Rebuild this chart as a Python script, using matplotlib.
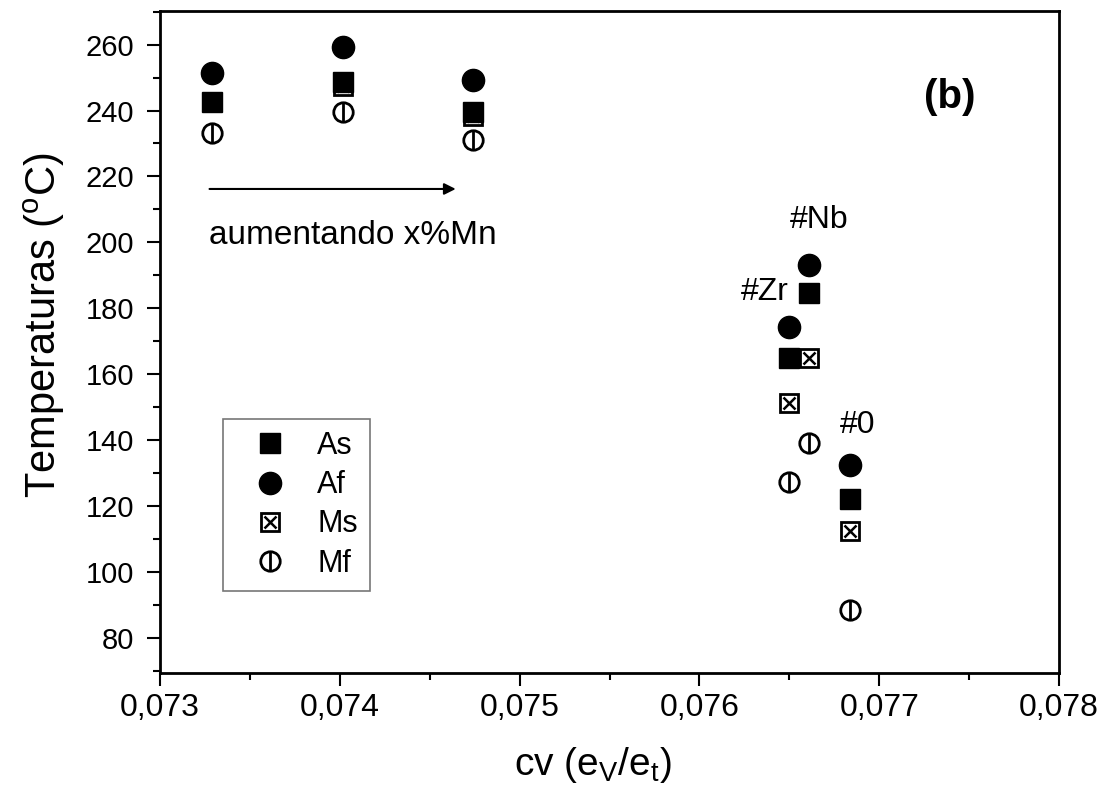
import matplotlib
matplotlib.use("Agg")
import matplotlib.pyplot as plt
from matplotlib.lines import Line2D

plt.rcParams["font.family"] = ["Liberation Sans", "DejaVu Sans"]
plt.rcParams["mathtext.fontset"] = "custom"
plt.rcParams["mathtext.rm"] = "Liberation Sans"

# cv values for each alloy group
cv = [0.07329, 0.07402, 0.07474, 0.07650, 0.07661, 0.07684]
As = [242.7, 248.7, 239.6, 165.0, 184.7, 122.2]
Af = [251.3, 259.3, 249.2, 174.4, 193.2, 132.5]
Ms = [None, 247.3, 238.2, 151.3, 165.0, 112.5]
Mf = [233.1, 239.6, 231.0, 127.3, 139.2, 88.5]

labels = ["#Zr", "#Nb", "#0"]
label_pos = [(0.076365, 185), (0.076665, 206.8), (0.07688, 144.6)]

fig = plt.figure(figsize=(11.05, 7.93), dpi=100)
ax = fig.add_axes([0.1448, 0.151, 0.8136, 0.8352])

def pts(vals):
    xs = [x for x, v in zip(cv, vals) if v is not None]
    ys = [v for v in vals if v is not None]
    return xs, ys

ms_sty = dict(ls="none", marker="s", ms=12.5, mfc="white", mec="black", mew=2)
ms_x = dict(ls="none", marker="x", ms=8, color="black", mew=1.8)
mf_sty = dict(ls="none", marker="o", ms=14, mfc="white", mec="black", mew=2)
mf_bar = dict(ls="none", marker="|", ms=14, color="black", mew=2)
as_sty = dict(ls="none", marker="s", ms=14.5, color="black")
af_sty = dict(ls="none", marker="o", ms=16, color="black")

ax.plot(*pts(Ms), zorder=3, **ms_sty)
ax.plot(*pts(Ms), zorder=3.1, **ms_x)
ax.plot(*pts(Mf), zorder=3, **mf_sty)
ax.plot(*pts(Mf), zorder=3.1, **mf_bar)
ax.plot(*pts(As), zorder=4, **as_sty)
ax.plot(*pts(Af), zorder=4, **af_sty)

for lab, (lx, ly) in zip(labels, label_pos):
    ax.text(lx, ly, lab, fontsize=23, ha="center", va="center")

ax.text(0.077395, 244.1, "(b)", fontsize=29, fontweight="bold", ha="center", va="center")
ax.annotate("", xy=(0.07466, 216.2), xytext=(0.07326, 216.2),
            arrowprops=dict(arrowstyle="-|>", color="black", lw=1.5, mutation_scale=17))
ax.text(0.07407, 202.2, "aumentando x%Mn", fontsize=24, ha="center", va="center")

ax.set_xlim(0.073, 0.078)
ax.set_ylim(69.3, 270.2)
ax.set_xticks([0.073, 0.074, 0.075, 0.076, 0.077, 0.078])
ax.set_xticklabels(["0,073", "0,074", "0,075", "0,076", "0,077", "0,078"])
ax.set_xticks([0.0735, 0.0745, 0.0755, 0.0765, 0.0775], minor=True)
ax.set_yticks(range(80, 261, 20))
ax.set_yticks(range(70, 271, 10), minor=True)
ax.tick_params(axis="both", which="major", direction="out", length=9.4, width=1.5)
ax.tick_params(axis="both", which="minor", direction="out", length=5, width=1.5)
ax.tick_params(axis="x", labelsize=23, pad=5)
ax.tick_params(axis="y", labelsize=21, pad=9)
for s in ax.spines.values():
    s.set_linewidth(2)

ax.set_xlabel(r"cv (e$_\mathregular{V}$/e$_\mathregular{t}$)", fontsize=28)
ax.xaxis.set_label_coords(0.482, -0.108)
ax.set_ylabel(r"Temperaturas ($^\mathregular{o}$C)", fontsize=30)
ax.yaxis.set_label_coords(-0.104, 0.525)

h_ms = (Line2D([], [], **ms_sty), Line2D([], [], **ms_x))
h_mf = (Line2D([], [], **mf_sty), Line2D([], [], **mf_bar))
leg = ax.legend([Line2D([], [], **as_sty), Line2D([], [], **af_sty), h_ms, h_mf],
                ["As", "Af", "Ms", "Mf"],
                loc="upper left", bbox_to_anchor=(0.0697, 0.384), borderaxespad=0,
                fontsize=22, frameon=True, fancybox=False, edgecolor="#555555",
                handletextpad=0.4, labelspacing=0.3, borderpad=0.4, handlelength=2.3)
leg.get_frame().set_linewidth(1.2)

fig.savefig("out.png", dpi=100)
